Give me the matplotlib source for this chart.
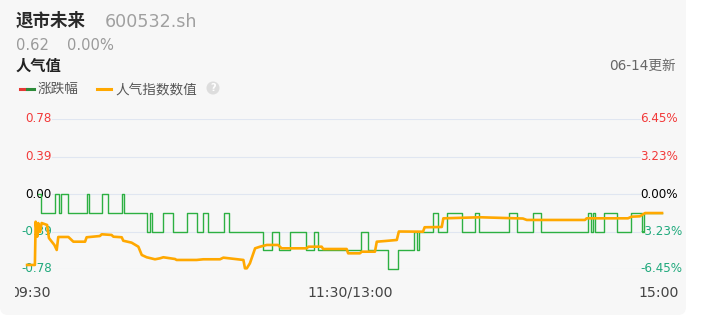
import numpy as np
import matplotlib
matplotlib.use("Agg")
from matplotlib import pyplot as plt
from matplotlib.patches import FancyBboxPatch, Rectangle, Circle
from matplotlib.lines import Line2D
import matplotlib.transforms as mtransforms

plt.rcParams['font.family'] = ['DejaVu Sans', 'Noto Sans CJK SC']

# --- data ---
# orange: popularity index, minutes after 09:30 (trading minutes) and value on left scale
pop_t = [-4.2, -1.2, -0.9, -0.3, 0.1, 0.8, 1.4, 3.5, 4.2, 5.3, 6.3, 7.2, 7.8, 11.7,
         13.6, 18.1, 18.7, 23.8, 24.5, 28.3, 29.0, 32.2, 32.8, 36.0, 38.6, 39.9,
         41.8, 45.0, 46.9, 48.2, 52.7, 53.3, 61.0, 63.6, 70.0, 71.3, 79.0, 79.6,
         80.3, 81.5, 83.5, 85.4, 88.0, 92.3, 93.7, 103.3, 104.0, 109.1, 109.7,
         118.7, 119.3, 123.8, 124.5, 129.6, 130.3, 133.5, 138.0, 138.8, 148.1,
         148.7, 155.3, 155.9, 170.0, 186.5, 188.0, 210.4, 211.0, 226.9, 228.3,
         231.5, 233.5, 240.0]
pop_v = [-0.738, -0.738, -0.288, -0.444, -0.302, -0.395, -0.302, -0.322, -0.458,
         -0.496, -0.530, -0.582, -0.447, -0.447, -0.496, -0.496, -0.450, -0.437,
         -0.419, -0.426, -0.444, -0.450, -0.486, -0.506, -0.548, -0.634, -0.658,
         -0.679, -0.669, -0.658, -0.676, -0.686, -0.686, -0.679, -0.679, -0.662,
         -0.686, -0.773, -0.773, -0.721, -0.565, -0.548, -0.530, -0.530, -0.565,
         -0.565, -0.548, -0.548, -0.572, -0.572, -0.617, -0.617, -0.600, -0.600,
         -0.496, -0.489, -0.478, -0.390, -0.392, -0.346, -0.343, -0.253, -0.242,
         -0.255, -0.270, -0.270, -0.253, -0.253, -0.236, -0.232, -0.198, -0.198]

# green: price change (%), change points (minute, level)
chg_t = [0, 1, 6.5, 8.1, 8.8, 11.5, 18.8, 19.8, 24.6, 26.9, 32.3, 32.9, 41.9, 43.1,
         43.8, 48.1, 52.1, 57.3, 61.2, 63.3, 65.4, 71.5, 73.5, 86.5, 90.0, 92.7,
         96.9, 103.1, 106.0, 107.7, 124.2, 126.9, 134.6, 138.5, 144.8, 145.6,
         146.7, 151.9, 153.7, 157.3, 163.1, 168.1, 169.8, 181.2, 184.2, 190.4,
         193.3, 211.5, 212.7, 213.3, 214.4, 217.7, 222.7, 227.9, 232.3, 232.9, 240]
chg_v = [0.00, -1.61, 0.00, -1.61, 0.00, -1.61, 0.00, -1.61, 0.00, -1.61, 0.00,
         -1.61, -3.23, -1.61, -3.23, -1.61, -3.23, -1.61, -3.23, -1.61, -3.23,
         -1.61, -3.23, -4.84, -3.23, -4.84, -3.23, -4.84, -3.23, -4.84, -3.23,
         -4.84, -6.45, -4.84, -3.23, -4.84, -3.23, -1.61, -3.23, -1.61, -3.23,
         -1.61, -3.23, -1.61, -3.23, -1.61, -3.23, -1.61, -3.23, -1.61, -3.23,
         -1.61, -3.23, -1.61, -3.23, -1.61, -1.61]

left_ticks = [0.78, 0.39, 0.00, -0.39, -0.78]
left_labels = ['0.78', '0.39', '0.00', '-0.39', '-0.78']
right_ticks = [6.45, 3.23, 0.00, -3.23, -6.45]
right_labels = ['6.45%', '3.23%', '0.00%', '-3.23%', '-6.45%']
x_ticks = [0, 120, 240]
x_labels = ['09:30', '11:30/13:00', '15:00']

RED = '#f23a3a'
GREEN_TXT = '#1fa97c'
GRID = '#e0e6f1'

W, H = 701, 320
fig = plt.figure(figsize=(W / 100, H / 100), dpi=100, facecolor='white')
pix = mtransforms.IdentityTransform()


def fx(x):
    return x / W


def fy(y):
    return 1 - y / H


# card background
card = FancyBboxPatch((0, 5), 686, 330, boxstyle="round,pad=0,rounding_size=8",
                      transform=pix, facecolor='#f7f7f7', edgecolor='none', zorder=-5)
fig.patches.append(card)

# header
fig.text(fx(16), fy(21), '退市未来', fontsize=12.6, color='#2a2a2a', va='center',
         fontweight='bold')
fig.text(fx(105), fy(22), '600532.sh', fontsize=12.6, color='#a0a0a0', va='center')
fig.text(fx(16), fy(46), '0.62', fontsize=10.6, color='#9a9a9a', va='center')
fig.text(fx(66.5), fy(46), '0.00%', fontsize=10.6, color='#9a9a9a', va='center')
fig.text(fx(16), fy(66), '人气值', fontsize=11, color='#222222', va='center',
         fontweight='bold')
fig.text(fx(676), fy(66), '06-14更新', fontsize=9.8, color='#666666', va='center',
         ha='right')

# legend
fig.add_artist(Line2D([fx(20), fx(27)], [fy(88.5), fy(88.5)], color='#e53935', lw=2.2,
                      transform=fig.transFigure))
fig.add_artist(Line2D([fx(27), fx(34)], [fy(88.5), fy(88.5)], color='#2e8b3a', lw=2.2,
                      transform=fig.transFigure))
fig.text(fx(38), fy(89), '涨跌幅', fontsize=9.8, color='#555555', va='center')
fig.add_artist(Line2D([fx(97), fx(111)], [fy(88.5), fy(88.5)], color='#ffa800', lw=2.2,
                      transform=fig.transFigure))
fig.text(fx(115), fy(89), '人气指数数值', fontsize=9.8, color='#555555', va='center')
fig.patches.append(Circle((213, H - 88), 6.5, transform=pix, facecolor='#dddddd',
                          edgecolor='none', zorder=2))
fig.text(fx(213), fy(88), '?', fontsize=7, color='white', ha='center', va='center',
         fontweight='bold')

# chart axes: 09:30 at px 38, 15:00 at px 662, 0.78 at px 119, -0.78 at px 269
ax = fig.add_axes([fx(38), fy(269), (662 - 38) / W, (269 - 119) / H])
ax.set_xlim(0, 240)
ax.set_ylim(-0.78, 0.78)
ax.axis('off')
ax2 = ax.twinx()
ax2.set_ylim(-6.45, 6.45)
ax2.axis('off')

g0 = (52 - 38) / 624
g1 = (640 - 38) / 624
for y in left_ticks:
    ax.axhline(y, g0, g1, color=GRID, lw=0.8, zorder=1)

left_colors = [RED, RED, '#000000', GREEN_TXT, GREEN_TXT]
for y, lab, c in zip(left_ticks, left_labels, left_colors):
    ax.text(g0, y, lab, transform=ax.get_yaxis_transform(), ha='right', va='center',
            fontsize=8.6, color=c, zorder=2)
for y, lab, c in zip(left_ticks, right_labels, left_colors):
    ax.text(g1, y, lab, transform=ax.get_yaxis_transform(), ha='left', va='center',
            fontsize=8.6, color=c, zorder=2)

ax2.step(chg_t, chg_v, where='post', color='#2db042', lw=1.0, zorder=3, clip_on=False)
ax2.plot(np.array(pop_t), np.array(pop_v) * 6.45 / 0.78, color='#ffa800', lw=1.9,
         zorder=4, clip_on=False, solid_joinstyle='round')

x_offsets = [-7.5, 0, -3.5]
for t, lab, dx in zip(x_ticks, x_labels, x_offsets):
    ax.annotate(lab, xy=(t, 0), xycoords=ax.get_xaxis_transform(),
                xytext=(dx * 0.72, -24 * 0.72), textcoords='offset points',
                ha='center', va='center', fontsize=10.2, color='#444444')

# left edge of the chart canvas cuts the first time label
fig.patches.append(Rectangle((0, H - 305), 15, 30, transform=pix, facecolor='#f7f7f7',
                             edgecolor='none', zorder=10))

fig.savefig('out.png', dpi=100, facecolor='white')
